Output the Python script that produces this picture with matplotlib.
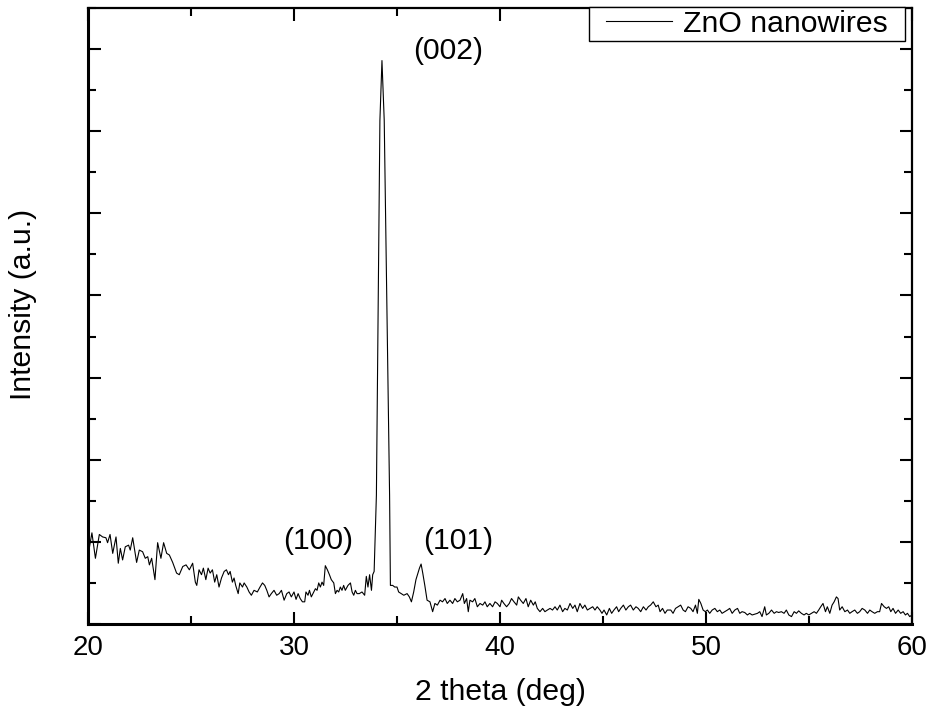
import numpy as np
import matplotlib
matplotlib.use('Agg')
import matplotlib.pyplot as plt
from matplotlib.ticker import MultipleLocator
from matplotlib.path import Path

plt.rcParams['font.family'] = ['Liberation Sans', 'DejaVu Sans']

# XRD pattern of ZnO nanowires (2 theta in deg, intensity in a.u.)
# 20 - 30.5 deg: sloping background
tt_low = [20.0, 20.06, 20.19, 20.36, 20.55, 20.71, 20.87, 20.95, 21.07, 21.2, 21.36, 21.47, 21.57,
          21.68, 21.81, 21.97, 22.05, 22.17, 22.36, 22.49, 22.65, 22.78, 22.9, 22.98, 23.09, 23.25,
          23.38, 23.54, 23.67, 23.82, 23.95, 24.11, 24.3, 24.43, 24.6, 24.76, 24.92, 25.08, 25.21,
          25.28, 25.39, 25.51, 25.60, 25.72, 25.83, 25.93, 26.04, 26.15, 26.25, 26.36, 26.48, 26.61,
          26.72, 26.82, 26.90, 27.01, 27.09, 27.17, 27.29, 27.37, 27.50, 27.58, 27.71, 27.82, 27.93,
          28.06, 28.22, 28.35, 28.47, 28.58, 28.68, 28.79, 28.90, 29.03, 29.16, 29.28, 29.39, 29.52,
          29.65, 29.76, 29.87, 30.00, 30.10, 30.20, 30.30, 30.41]
i_low = [0.96, 0.92, 1.11, 0.80, 1.09, 1.06, 1.05, 0.99, 1.09, 0.86, 1.06, 0.74, 0.92,
         0.78, 0.94, 0.96, 0.90, 1.05, 0.75, 0.90, 0.88, 0.80, 0.82, 0.72, 0.80, 0.54,
         0.99, 0.80, 0.99, 0.86, 0.84, 0.75, 0.62, 0.60, 0.70, 0.72, 0.66, 0.74, 0.51,
         0.47, 0.66, 0.60, 0.68, 0.54, 0.68, 0.62, 0.66, 0.51, 0.60, 0.45, 0.56, 0.64,
         0.66, 0.60, 0.64, 0.51, 0.56, 0.47, 0.37, 0.50, 0.45, 0.50, 0.45, 0.39, 0.35,
         0.41, 0.39, 0.45, 0.50, 0.47, 0.41, 0.33, 0.37, 0.41, 0.35, 0.37, 0.41, 0.29,
         0.37, 0.39, 0.33, 0.39, 0.30, 0.37, 0.31, 0.27]

# 30.5 - 36.6 deg: (100), (002) and (101) reflections
tt_peaks = [30.52, 30.58, 30.68, 30.75, 30.84, 30.96, 31.04, 31.12, 31.20, 31.28, 31.36, 31.44,
            31.52, 31.62, 31.72, 31.81, 31.93, 32.01, 32.09, 32.17, 32.25, 32.33, 32.41, 32.49,
            32.62, 32.74, 32.82, 32.90, 32.98, 33.06, 33.17, 33.30, 33.43, 33.51, 33.59, 33.67,
            33.76, 33.82, 33.89,
            34.00, 34.17, 34.27, 34.38, 34.64, 34.68,
            34.79, 34.89, 35.00, 35.08, 35.21, 35.33, 35.49, 35.60, 35.70, 35.81, 35.92, 36.09,
            36.17, 36.25, 36.35, 36.46]
i_peaks = [0.27, 0.39, 0.35, 0.41, 0.33, 0.39, 0.43, 0.41, 0.50, 0.45, 0.51, 0.47,
           0.71, 0.66, 0.60, 0.54, 0.50, 0.37, 0.41, 0.39, 0.45, 0.41, 0.47, 0.41,
           0.47, 0.50, 0.39, 0.35, 0.41, 0.37, 0.37, 0.39, 0.35, 0.58, 0.45, 0.60,
           0.41, 0.60, 0.64,
           1.57, 6.13, 6.86, 6.13, 1.57, 0.47,
           0.47, 0.45, 0.45, 0.39, 0.37, 0.35, 0.37, 0.33, 0.27, 0.39, 0.54, 0.68,
           0.73, 0.62, 0.47, 0.29]

# 36.6 - 48.2 deg: flat background
tt_mid = [36.60, 36.73, 36.84, 36.96, 37.09, 37.21, 37.33, 37.44, 37.57, 37.70,
          37.81, 37.93, 38.06, 38.19, 38.27, 38.38, 38.46, 38.54, 38.67, 38.78,
          38.90, 39.03, 39.16, 39.27, 39.38, 39.51, 39.64, 39.76, 39.87, 40.00,
          40.08, 40.19, 40.32, 40.45, 40.56, 40.68, 40.81, 40.89, 41.00, 41.13,
          41.26, 41.37, 41.49, 41.62, 41.71, 41.81, 41.94, 42.07, 42.18, 42.30,
          42.43, 42.55, 42.67, 42.78, 42.91, 43.04, 43.15, 43.27, 43.40, 43.53,
          43.64, 43.75, 43.88, 44.01, 44.12, 44.24, 44.37, 44.50, 44.61, 44.72,
          44.85, 44.95, 45.05, 45.18, 45.31, 45.42, 45.53, 45.66, 45.76, 45.86,
          45.99, 46.11, 46.23, 46.34, 46.47, 46.60, 46.71, 46.83, 46.96, 47.09,
          47.20, 47.31, 47.44, 47.57, 47.68, 47.77, 47.89, 48.01, 48.12]
i_mid = [0.27, 0.15, 0.25, 0.23, 0.29, 0.27, 0.31, 0.25, 0.29, 0.25,
         0.31, 0.27, 0.29, 0.37, 0.25, 0.31, 0.15, 0.29, 0.27, 0.31,
         0.21, 0.25, 0.23, 0.27, 0.21, 0.25, 0.21, 0.27, 0.25, 0.21,
         0.29, 0.25, 0.21, 0.25, 0.31, 0.27, 0.23, 0.33, 0.29, 0.25,
         0.31, 0.21, 0.29, 0.23, 0.27, 0.19, 0.15, 0.19, 0.15, 0.17,
         0.19, 0.17, 0.21, 0.17, 0.23, 0.15, 0.19, 0.17, 0.25, 0.19,
         0.23, 0.15, 0.25, 0.19, 0.23, 0.17, 0.19, 0.21, 0.17, 0.21,
         0.17, 0.13, 0.17, 0.11, 0.19, 0.13, 0.17, 0.21, 0.15, 0.19,
         0.23, 0.17, 0.21, 0.23, 0.17, 0.21, 0.19, 0.15, 0.21, 0.17,
         0.21, 0.23, 0.27, 0.21, 0.23, 0.15, 0.19, 0.13, 0.17]

# 48.2 - 60 deg
tt_high = [48.29, 48.40, 48.52, 48.65, 48.77, 48.89, 49.00, 49.13, 49.26, 49.37,
           49.49, 49.58, 49.65, 49.75, 49.86, 49.97, 50.07, 50.18, 50.30, 50.43,
           50.55, 50.67, 50.78, 50.91, 51.04, 51.15, 51.27, 51.40, 51.53, 51.64,
           51.75, 51.88, 52.01, 52.12, 52.24, 52.37, 52.50, 52.61, 52.72, 52.85,
           52.93, 53.05, 53.18, 53.31, 53.42, 53.53, 53.66, 53.79, 53.90, 54.02,
           54.15, 54.28, 54.39, 54.50, 54.63, 54.76, 54.87, 54.99, 55.12, 55.25,
           55.36, 55.47, 55.57, 55.68, 55.80, 55.89, 56.01, 56.12, 56.22, 56.33,
           56.41, 56.49, 56.61, 56.74, 56.87, 56.98, 57.09, 57.22, 57.35, 57.46,
           57.58, 57.71, 57.84, 57.95, 58.06, 58.19, 58.32, 58.43, 58.52, 58.65,
           58.76, 58.87, 58.97, 59.08, 59.20, 59.33, 59.45, 59.57, 59.68, 59.78,
           59.89, 60.00]
i_high = [0.17, 0.13, 0.19, 0.21, 0.23, 0.17, 0.15, 0.21, 0.19, 0.15,
          0.23, 0.13, 0.30, 0.25, 0.17, 0.15, 0.17, 0.13, 0.17, 0.19,
          0.15, 0.17, 0.13, 0.15, 0.17, 0.19, 0.13, 0.17, 0.19, 0.13,
          0.15, 0.14, 0.11, 0.13, 0.11, 0.12, 0.13, 0.15, 0.09, 0.21,
          0.11, 0.13, 0.17, 0.13, 0.15, 0.14, 0.15, 0.13, 0.17, 0.11,
          0.09, 0.15, 0.13, 0.16, 0.13, 0.11, 0.13, 0.11, 0.13, 0.15,
          0.13, 0.17, 0.21, 0.25, 0.15, 0.21, 0.13, 0.23, 0.27, 0.33,
          0.31, 0.17, 0.21, 0.15, 0.17, 0.13, 0.15, 0.17, 0.13, 0.15,
          0.19, 0.17, 0.13, 0.17, 0.15, 0.13, 0.15, 0.15, 0.25, 0.21,
          0.19, 0.21, 0.15, 0.19, 0.13, 0.17, 0.13, 0.15, 0.11, 0.13,
          0.09, 0.11]

peak_labels = ['(002)', '(100)', '(101)']
peak_label_x = [37.48, 31.16, 37.96]
peak_label_y = [6.98, 1.01, 1.01]

two_theta = np.array(tt_low + tt_peaks + tt_mid + tt_high)
intensity = np.array(i_low + i_peaks + i_mid + i_high)

FS = 21.7
W, H = 930, 715
fig = plt.figure(figsize=(W / 100, H / 100), dpi=100)
ax = fig.add_axes([88 / W, 1 - 624 / H, 824 / W, 616 / H])

ax.plot(two_theta, intensity, color='black', lw=0.8, label='ZnO nanowires')

for txt, x, y in zip(peak_labels, peak_label_x, peak_label_y):
    ax.text(x, y, txt, fontsize=FS, ha='center', va='center')

ax.set_xlim(20, 60)
ax.set_ylim(0, 7.5)
ax.xaxis.set_major_locator(MultipleLocator(10))
ax.xaxis.set_minor_locator(MultipleLocator(5))
ax.yaxis.set_major_locator(MultipleLocator(1))
ax.yaxis.set_minor_locator(MultipleLocator(0.5))
ax.tick_params(which='both', direction='in', top=True, right=True, width=1.5)
ax.tick_params(which='major', length=9)
ax.tick_params(which='minor', length=5.5)
ax.tick_params(axis='x', labelsize=20, pad=8)
ax.tick_params(axis='y', labelleft=False)

for side in ['left', 'bottom']:
    ax.spines[side].set_linewidth(2.2)
for side in ['top', 'right']:
    ax.spines[side].set_linewidth(1.6)

ax.set_xlabel('2 theta (deg)', fontsize=FS)
ax.set_ylabel('Intensity (a.u.)', fontsize=FS)
ax.xaxis.set_label_coords(0.5, -0.088)
ax.yaxis.set_label_coords(-0.062, 0.518)


def wide_box(x0, y0, width, height, mutation_size):
    # legend frame with extra room left and right of the entry
    dx = 0.47 * mutation_size
    x1, y1 = x0 + width + dx, y0 + height
    x0 = x0 - dx
    return Path([(x0, y0), (x1, y0), (x1, y1), (x0, y1), (x0, y0)],
                [Path.MOVETO, Path.LINETO, Path.LINETO, Path.LINETO, Path.CLOSEPOLY])


leg = ax.legend(loc='upper right', bbox_to_anchor=(0.9745, 1.0016), borderaxespad=0,
                fontsize=FS, frameon=True, fancybox=False, edgecolor='black',
                borderpad=0.1, handlelength=2.2, handletextpad=0.37)
leg.get_frame().set_boxstyle(wide_box)
leg.get_frame().set_linewidth(1.0)
leg.get_frame().set_alpha(None)
leg.get_frame().set_facecolor('white')

plt.savefig('out.png', dpi=100)
